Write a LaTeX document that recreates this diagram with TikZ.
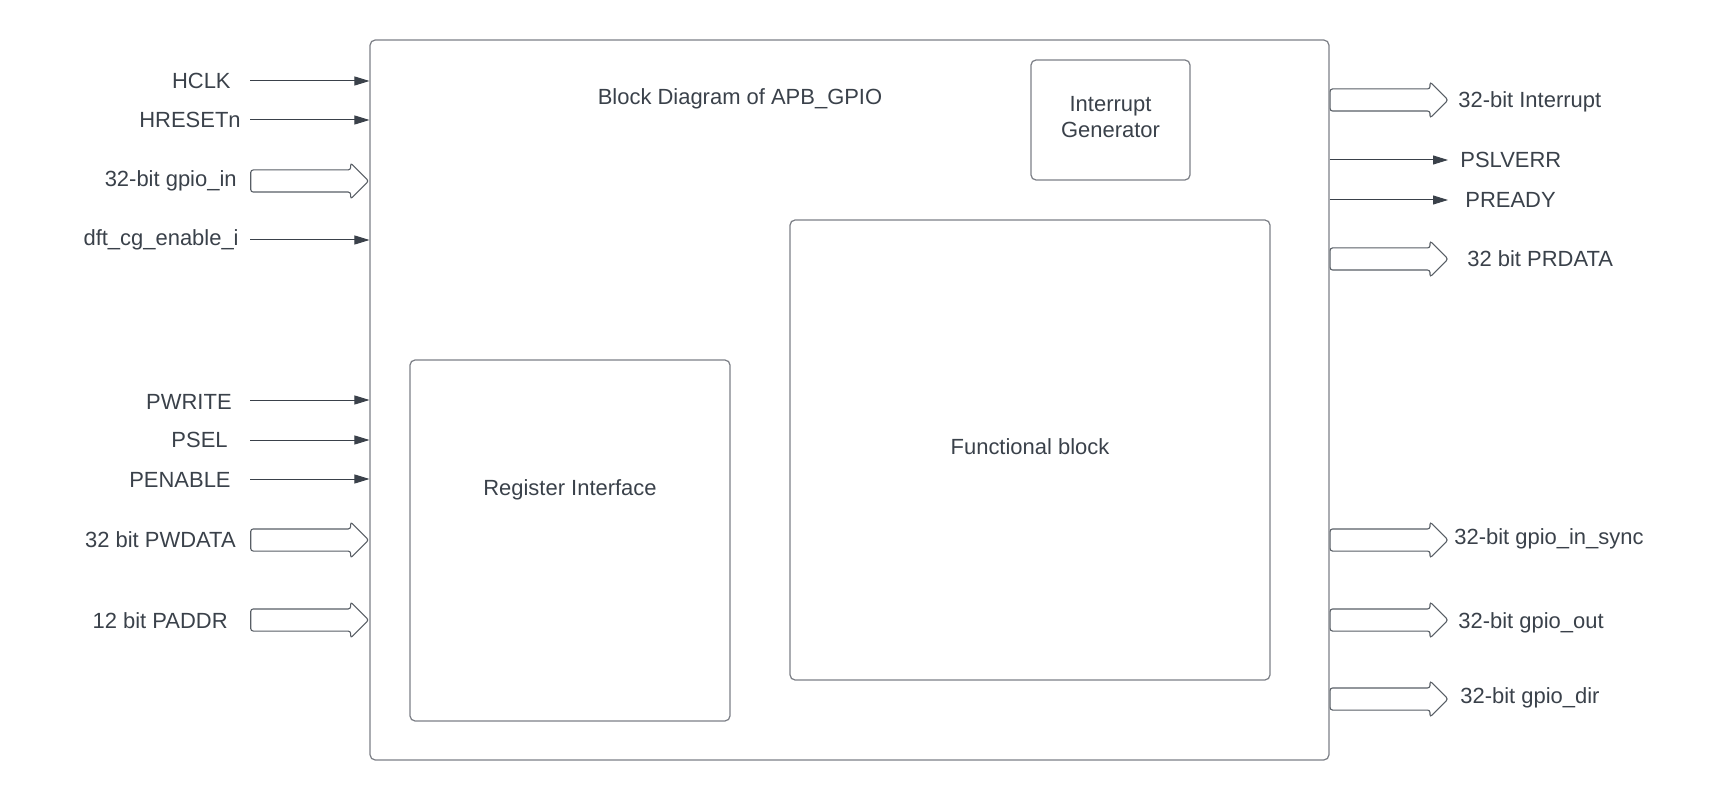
\documentclass[tikz,border=0pt]{standalone}
\usepackage{fontspec}
\setmainfont{Liberation Sans}
\usepackage{xcolor}
\usepackage{tikz}
\usetikzlibrary{arrows.meta}
\usetikzlibrary{shapes,shapes.arrows}
\definecolor{ink}{HTML}{3A414A}
\definecolor{frame}{HTML}{7D8087}
\tikzset{>=stealth}
\tikzset{
  block/.style={draw=frame, line width=0.025cm, rounded corners=0.1cm, inner sep=0},
  sig/.style={-{Triangle[length=0.3cm,width=0.18cm]}, ink, line width=0.02cm},
  bus/.style={single arrow, draw=ink!85, line width=0.022cm, rounded corners=0.05cm,
    minimum height=2.36cm, inner xsep=0, inner ysep=0.21cm, single arrow head extend=0.14cm},
  lbl/.style={text=ink, font=\fontsize{12.5}{15}\selectfont, inner sep=0}
}

\begin{document}
\begin{tikzpicture}[x=0.02cm, y=-0.02cm]
        \useasboundingbox (0,0) rectangle (1710,800);
        % Blocks
        \node[block, minimum width=19.18cm, minimum height=14.4cm] (apb) at (849.5,400) {};
        \node[block, minimum width=6.4cm, minimum height=7.22cm] (reg) at (570,540.5) {};
        \node[block, minimum width=9.6cm, minimum height=9.2cm] (func) at (1030,450) {};
        \node[block, minimum width=3.18cm, minimum height=2.4cm] (intgen) at (1110.5,120) {};
        \node[lbl] (title) at (740,99) {Block Diagram of APB\_GPIO};
        \node[lbl] (regtxt) at (570,490) {Register Interface};
        \node[lbl] (functxt) at (1030,447) {Functional block};
        \node[lbl, align=center] (intgentxt) at (1110.5,117) {Interrupt\\Generator};

        % Inputs
        \node[lbl, anchor=east] (hclk) at (231,81) {HCLK};
        \node[lbl, anchor=east] (hresetn) at (241,120) {HRESETn};
        \node[lbl, anchor=east] (gpioin) at (237,181) {32-bit gpio\_in};
        \node[lbl, anchor=east] (dftcg) at (239,240) {dft\_cg\_enable\_i};
        \node[lbl, anchor=east] (pwrite) at (232,402) {PWRITE};
        \node[lbl, anchor=east] (psel) at (228,440) {PSEL};
        \node[lbl, anchor=east] (penable) at (231,480) {PENABLE};
        \node[lbl, anchor=east] (pwdata) at (236,540) {32 bit PWDATA};
        \node[lbl, anchor=east] (paddr) at (228,621) {12 bit PADDR};

        \coordinate (hclk_a) at (250,81);
        \coordinate (hresetn_a) at (250,120);
        \coordinate (dftcg_a) at (250,240);
        \coordinate (pwrite_a) at (250,400);
        \coordinate (psel_a) at (250,440);
        \coordinate (penable_a) at (250,479);
        \draw [sig] (hclk_a) -- (hclk_a -| apb.west);
        \draw [sig] (hresetn_a) -- (hresetn_a -| apb.west);
        \draw [sig] (dftcg_a) -- (dftcg_a -| apb.west);
        \draw [sig] (pwrite_a) -- (pwrite_a -| apb.west);
        \draw [sig] (psel_a) -- (psel_a -| apb.west);
        \draw [sig] (penable_a) -- (penable_a -| apb.west);
        \node[bus, anchor=tip] (gpioin_bus) at (apb.west |- gpioin) {};
        \node[bus, anchor=tip] (pwdata_bus) at (apb.west |- pwdata) {};
        \node[bus, anchor=tip] (paddr_bus) at (apb.west |- 0,620) {};

        % Outputs
        \node[lbl, anchor=west] (irq) at (1458,102) {32-bit Interrupt};
        \node[lbl, anchor=west] (pslverr) at (1460,160) {PSLVERR};
        \node[lbl, anchor=west] (pready) at (1465,200) {PREADY};
        \node[lbl, anchor=west] (prdata) at (1467,259) {32 bit PRDATA};
        \node[lbl, anchor=west] (insync) at (1454,539) {32-bit gpio\_in\_sync};
        \node[lbl, anchor=west] (gpioout) at (1458,623) {32-bit gpio\_out};
        \node[lbl, anchor=west] (gpiodir) at (1460,698) {32-bit gpio\_dir};

        \coordinate (pslverr_b) at (1448,160);
        \coordinate (pready_b) at (1448,200);
        \draw [sig] (pslverr_b -| apb.east) -- (pslverr_b);
        \draw [sig] (pready_b -| apb.east) -- (pready_b);
        \node[bus, anchor=tail] (irq_bus) at (apb.east |- 0,100) {};
        \node[bus, anchor=tail] (prdata_bus) at (apb.east |- 0,259) {};
        \node[bus, anchor=tail] (insync_bus) at (apb.east |- 0,540) {};
        \node[bus, anchor=tail] (gpioout_bus) at (apb.east |- 0,620) {};
        \node[bus, anchor=tail] (gpiodir_bus) at (apb.east |- 0,699) {};
      \end{tikzpicture}
\end{document}
